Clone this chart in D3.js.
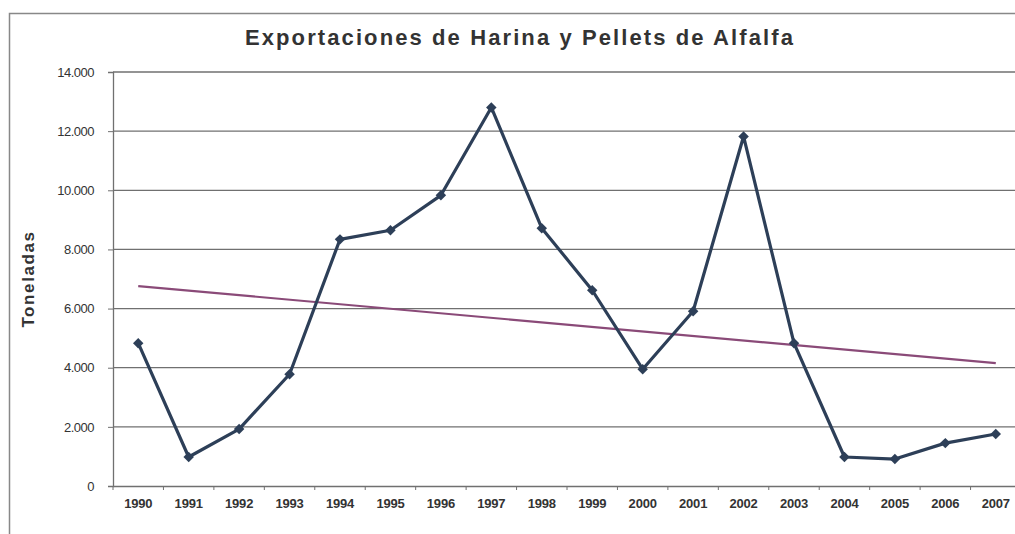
<!DOCTYPE html>
<html>
<head>
<meta charset="utf-8">
<script src="https://cdn.jsdelivr.net/npm/d3@7"></script>
<style>
	body { margin: 0; background: #fff; }
	svg { display: block; font-family: "Liberation Sans", Arial, sans-serif; }
</style>
</head>
<body>
<div id="vis"></div>
<script>
const width = 1015;
const height = 534;

const years = ["1990","1991","1992","1993","1994","1995","1996","1997","1998","1999","2000","2001","2002","2003","2004","2005","2006","2007"];
const toneladas = [4830, 980, 1925, 3780, 8340, 8650, 9830, 12800, 8720, 6620, 3950, 5910, 11820, 4830, 980, 910, 1450, 1760];
const trend = [6760, 4155]; // tendencia lineal, valor en 1990 y en 2007
const yTicks = [0, 2000, 4000, 6000, 8000, 10000, 12000, 14000];

const margin = {top: 72, right: -6, bottom: 48, left: 113};

const svg = d3.select("#vis")
	.append("svg")
		.attr("width", width)
		.attr("height", height);

// marco exterior
svg.append("rect")
	.attr("x", 9.5)
	.attr("y", 13.5)
	.attr("width", width + 20)
	.attr("height", height + 20)
	.attr("fill", "none")
	.attr("stroke", "#888")
	.attr("stroke-width", 1.5);

const x = d3.scaleBand()
	.domain(years)
	.range([margin.left, width - margin.right]);

const y = d3.scaleLinear()
	.domain([0, 14000])
	.range([height - margin.bottom, margin.top]);

const fmt = d => d3.format(",")(d).replace(/,/g, ".");

// grilla
svg.append("g")
	.selectAll("line")
	.data(yTicks.slice(1))
	.enter()
	.append("line")
		.attr("x1", margin.left)
		.attr("x2", width)
		.attr("y1", d => y(d))
		.attr("y2", d => y(d))
		.attr("stroke", "#707070")
		.attr("stroke-width", 1.3);

// eje y
const yAxis = svg.append("g")
	.attr("transform", `translate(${margin.left},0)`)
	.call(d3.axisLeft(y).tickValues(yTicks).tickFormat(fmt).tickSize(5).tickPadding(14));
yAxis.select(".domain").attr("stroke", "#707070").attr("stroke-width", 1.3);
yAxis.selectAll(".tick line").attr("stroke", "#707070");
yAxis.selectAll("text")
	.attr("fill", "#333")
	.style("font-size", "13px")
	.style("letter-spacing", "-0.5px");

// eje x
const xAxis = svg.append("g")
	.attr("transform", `translate(0,${y(0)})`)
	.call(d3.axisBottom(x).tickSize(0).tickPadding(13));
xAxis.select(".domain").attr("stroke", "#707070").attr("stroke-width", 1.3);
xAxis.selectAll("text")
	.attr("fill", "#333")
	.style("font-size", "13px")
	.style("font-weight", "bold")
	.style("letter-spacing", "-0.2px");
svg.append("g")
	.selectAll("line")
	.data(years)
	.enter()
	.append("line")
		.attr("x1", d => x(d))
		.attr("x2", d => x(d))
		.attr("y1", y(0))
		.attr("y2", y(0) + 4)
		.attr("stroke", "#707070");

const cx = d => x(d) + x.bandwidth() / 2;

// linea de tendencia
svg.append("line")
	.attr("x1", cx(years[0]))
	.attr("x2", cx(years[years.length - 1]))
	.attr("y1", y(trend[0]))
	.attr("y2", y(trend[1]))
	.attr("stroke", "#8a4a78")
	.attr("stroke-width", 2.2);

// serie
const pts = years.map((yr, i) => [cx(yr), y(toneladas[i])]);
svg.append("path")
	.attr("d", d3.line()(pts))
	.attr("fill", "none")
	.attr("stroke", "#2d3f58")
	.attr("stroke-width", 3.2)
	.attr("stroke-linejoin", "round");

svg.append("g")
	.selectAll("path")
	.data(pts)
	.enter()
	.append("path")
		.attr("d", d3.symbol(d3.symbolDiamond2, 70))
		.attr("transform", d => `translate(${d[0]},${d[1]})`)
		.attr("fill", "#2d3f58");

// titulos
svg.append("text")
	.attr("x", 520)
	.attr("y", 45)
	.attr("text-anchor", "middle")
	.attr("fill", "#333")
	.style("font-size", "22px")
	.style("font-weight", "bold")
	.style("letter-spacing", "2.1px")
	.text("Exportaciones de Harina y Pellets de Alfalfa");

svg.append("text")
	.attr("transform", `translate(34,${(margin.top + y(0)) / 2}) rotate(-90)`)
	.attr("text-anchor", "middle")
	.attr("fill", "#333")
	.style("font-size", "17px")
	.style("font-weight", "bold")
	.style("letter-spacing", "1.6px")
	.text("Toneladas");
</script>
</body>
</html>
